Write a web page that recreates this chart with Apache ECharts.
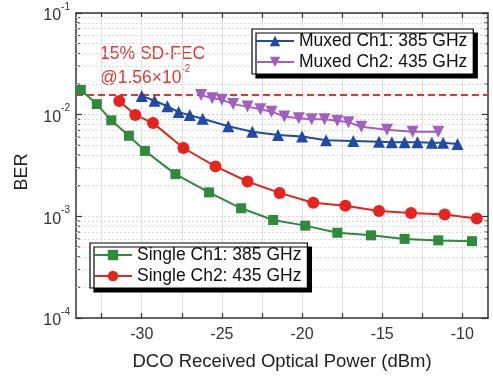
<!DOCTYPE html>
<html><head><meta charset="utf-8">
<script src="https://cdn.jsdelivr.net/npm/echarts@6/dist/echarts.min.js"></script>
<style>html,body{margin:0;padding:0;background:#fff}#c{width:493px;height:378px}</style>
</head><body><div id="c"></div>
<script>
// ---------- data ----------
const singleCh1X = [-33.8,-32.8,-31.9,-30.8,-29.8,-27.9,-25.8,-23.8,-21.8,-19.8,-17.8,-15.7,-13.6,-11.5,-9.4];
const singleCh1Y = [1.75e-2,1.27e-2,8.8e-3,6.2e-3,4.4e-3,2.6e-3,1.72e-3,1.2e-3,9.2e-4,8.1e-4,6.9e-4,6.5e-4,6.0e-4,5.8e-4,5.7e-4];

const singleCh2X = [-31.4,-30.4,-29.3,-27.4,-25.4,-23.4,-21.4,-19.3,-17.3,-15.2,-13.2,-11.1,-9.1];
const singleCh2Y = [1.36e-2,9.9e-3,8.3e-3,4.7e-3,3.1e-3,2.2e-3,1.7e-3,1.36e-3,1.27e-3,1.13e-3,1.08e-3,1.04e-3,9.5e-4];

const muxedCh1X = [-30.0,-29.2,-28.4,-27.7,-27.0,-26.2,-24.6,-23.1,-21.5,-20.0,-18.5,-16.8,-15.2,-14.4,-13.6,-12.8,-11.9,-11.2,-10.3];
const muxedCh1Y = [1.53e-2,1.37e-2,1.21e-2,1.06e-2,9.9e-3,9.1e-3,7.7e-3,6.8e-3,6.3e-3,6.1e-3,5.6e-3,5.5e-3,5.4e-3,5.35e-3,5.35e-3,5.35e-3,5.3e-3,5.3e-3,5.15e-3];

const muxedCh2X = [-26.3,-25.6,-25.0,-24.3,-23.4,-22.6,-21.9,-21.1,-20.2,-19.4,-18.6,-17.8,-17.1,-16.3,-14.7,-13.1,-11.5];
const muxedCh2Y = [1.56e-2,1.45e-2,1.40e-2,1.27e-2,1.20e-2,1.13e-2,1.07e-2,9.6e-3,9.2e-3,9.0e-3,9.0e-3,8.7e-3,8.4e-3,7.6e-3,7.1e-3,6.8e-3,6.8e-3];

const seriesNames = ['Single Ch1: 385 GHz','Single Ch2: 435 GHz','Muxed Ch1: 385 GHz','Muxed Ch2: 435 GHz'];
const fecThreshold = 1.56e-2;

const xTickValues = [-32.5,-30,-27.5,-25,-22.5,-20,-17.5,-15,-12.5,-10];
const xLabelValues = [-30,-25,-20,-15,-10];
const yMinorValues = [2e-4,3e-4,4e-4,5e-4,6e-4,7e-4,8e-4,9e-4,
                      2e-3,3e-3,4e-3,5e-3,6e-3,7e-3,8e-3,9e-3,
                      2e-2,3e-2,4e-2,5e-2,6e-2,7e-2,8e-2,9e-2];
const xRange = [-34.1, -8.4];
const yRange = [1e-4, 1e-1];

// ---------- chart ----------
const FONT = 'Liberation Sans';
const AX = '#333';
const zip = (xs, ys) => xs.map((x, i) => [x, ys[i]]);
const chart = echarts.init(document.getElementById('c'), null, {renderer: 'canvas'});

const supFmt = v => '{b|10}{s|' + Math.round(Math.log10(v)) + '}';
const baseX = {
  type: 'value', min: xRange[0], max: xRange[1],
  axisLine: {show: true, onZero: false, lineStyle: {color: AX, width: 1.5}},
  axisTick: {show: true, inside: true, length: 5, customValues: xTickValues, lineStyle: {color: AX, width: 1.2}},
};
const baseY = {
  type: 'log', logBase: 10, min: yRange[0], max: yRange[1],
  axisLine: {show: true, onZero: false, lineStyle: {color: AX, width: 1.5}},
  axisTick: {show: true, inside: true, length: 6, lineStyle: {color: AX, width: 1.2}},
};

const legendBase = {
  orient: 'vertical', itemWidth: 38, itemHeight: 13, itemGap: 3,
  padding: [3, 6, 3, 3], z: 30,
  backgroundColor: '#fff', borderColor: '#000', borderWidth: 1.2,
  shadowColor: '#000', shadowBlur: 0, shadowOffsetX: 4, shadowOffsetY: 4,
  textStyle: {fontFamily: FONT, fontSize: 17.5, color: '#111'},
  selectedMode: false
};

const colors = ['#2e8b3c', '#e8231e', '#1f4aa8', '#a25fc2'];
const symbols = ['rect', 'circle', 'triangle', 'path://M0,0 L10,0 L5,9 Z'];
const sizes = [10, 12, 12, 12];
const xsAll = [singleCh1X, singleCh2X, muxedCh1X, muxedCh2X];
const ysAll = [singleCh1Y, singleCh2Y, muxedCh1Y, muxedCh2Y];

const lineSeries = seriesNames.map((n, i) => ({
  name: n, type: 'line', data: zip(xsAll[i], ysAll[i]),
  symbol: symbols[i], symbolSize: sizes[i], showSymbol: true,
  itemStyle: {color: colors[i]}, lineStyle: {color: colors[i], width: 2},
  z: 5 + i
}));

const option = {
  animation: false,
  grid: {left: 76, right: 5, top: 13, bottom: 60},
  legend: [
    Object.assign({}, legendBase, {data: [seriesNames[2], seriesNames[3]], left: 252, top: 29}),
    Object.assign({}, legendBase, {data: [seriesNames[0], seriesNames[1]], left: 90, top: 243})
  ],
  xAxis: [
    Object.assign({}, baseX, {
      position: 'bottom',
      axisLabel: {customValues: xLabelValues, fontFamily: FONT, fontSize: 16, color: AX, margin: 9},
      splitLine: {show: true, lineStyle: {color: '#e0e0e0', width: 1}},
      name: 'DCO Received Optical Power (dBm)', nameLocation: 'middle', nameGap: 34,
      nameTextStyle: {fontFamily: FONT, fontSize: 18.5, color: '#222'}
    }),
    Object.assign({}, baseX, {position: 'top', axisLabel: {show: false}, splitLine: {show: false}})
  ],
  yAxis: [
    Object.assign({}, baseY, {
      position: 'left',
      axisLabel: {formatter: supFmt, margin: 6, rich: {
        b: {fontFamily: FONT, fontSize: 16, color: AX, padding: [6, 0, 0, 0]},
        s: {fontFamily: FONT, fontSize: 10, color: AX, verticalAlign: 'top'}
      }},
      splitLine: {show: true, lineStyle: {color: '#d6d6d6', type: [2, 2]}}
    }),
    Object.assign({}, baseY, {position: 'right', axisLabel: {show: false}, splitLine: {show: false}})
  ],
  graphic: [
    {type: 'text', left: 100, top: 45, style: {text: '15% SD-FEC', fill: '#e03a32', font: '17.5px "Liberation Sans"'}},
    {type: 'text', left: 100, top: 64, style: {
      text: '{a|@1.56×10}{b|-2}', fill: '#e03a32',
      rich: {a: {fill: '#e03a32', fontSize: 17.5, fontFamily: FONT, padding: [5, 0, 0, 0]},
             b: {fill: '#e03a32', fontSize: 10, fontFamily: FONT, verticalAlign: 'top'}}
    }},
    {type: 'text', x: 22, y: 172, rotation: Math.PI / 2, style: {
      text: 'BER', fill: '#222', font: '18px "Liberation Sans"', textAlign: 'center', textVerticalAlign: 'middle'}}
  ],
  series: [
    // minor horizontal grid lines
    {type: 'line', data: [], silent: true, z: 1, markLine: {
      silent: true, symbol: 'none', label: {show: false}, animation: false, precision: 10,
      lineStyle: {color: '#dcdcdc', type: [2, 2], width: 1},
      data: yMinorValues.map(v => ({yAxis: v}))
    }},
    // minor ticks on left and right frame
    {type: 'scatter', silent: true, data: yMinorValues.map(v => [xRange[0], v]),
      symbol: 'rect', symbolSize: [4, 1.2], symbolOffset: [2, 0], itemStyle: {color: AX}, z: 3},
    {type: 'scatter', silent: true, data: yMinorValues.map(v => [xRange[1], v]),
      symbol: 'rect', symbolSize: [4, 1.2], symbolOffset: [-2, 0], itemStyle: {color: AX}, z: 3},
    // FEC threshold
    {type: 'line', data: [], silent: true, markLine: {
      silent: true, symbol: 'none', label: {show: false}, animation: false, precision: 10,
      lineStyle: {color: '#e8322a', type: [7, 4], width: 2},
      data: [{yAxis: fecThreshold}]
    }, z: 4},
    ...lineSeries
  ]
};
chart.setOption(option);
</script></body></html>
